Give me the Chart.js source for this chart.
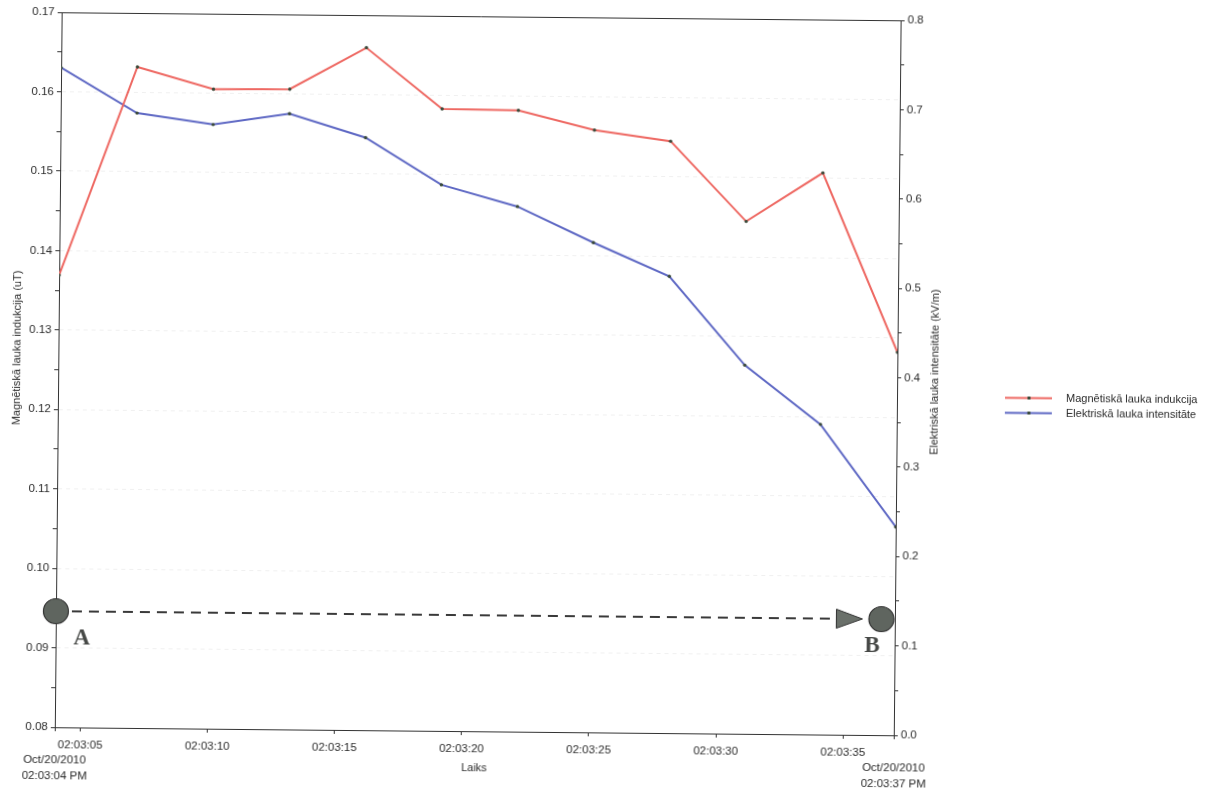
<!DOCTYPE html>
<html>
<head>
<meta charset="utf-8">
<script src="https://cdn.jsdelivr.net/npm/chart.js@4.4.0/dist/chart.umd.min.js"></script>
<style>
html,body{margin:0;padding:0;background:#fff;overflow:hidden}
#wrap{width:1216px;height:789px;position:relative;overflow:hidden;background:#fff}
/* the reference is a slightly skewed scan: reproduce the small clockwise tilt */
#c{transform-origin:608px 394.5px;transform:translate(0,2.5px) rotate(0.55deg)}
</style>
</head>
<body>
<div id="wrap"><canvas id="c" width="1216" height="789"></canvas></div>
<script>
// ---- data ----
const times = ['02:03:04','02:03:07','02:03:10','02:03:13','02:03:16','02:03:19','02:03:22','02:03:25','02:03:28','02:03:31','02:03:34','02:03:37'];
const magnetic = [0.1369,0.1632,0.1605,0.1606,0.1659,0.1583,0.1582,0.1558,0.1545,0.1445,0.1507,0.1282];
const electric = [0.738,0.688,0.676,0.689,0.663,0.611,0.5875,0.548,0.511,0.4125,0.347,0.233];
const seriesNames = ['Magnētiskā lauka indukcija','Elektriskā lauka intensitāte'];
const xTickSeconds = [5,10,15,20,25,30,35];
const xTickLabels = ['02:03:05','02:03:10','02:03:15','02:03:20','02:03:25','02:03:30','02:03:35'];
const startLabel = ['Oct/20/2010','02:03:04 PM'];
const endLabel = ['Oct/20/2010','02:03:37 PM'];
const leftTitle = 'Magnētiskā lauka indukcija (uT)';
const rightTitle = 'Elektriskā lauka intensitāte (kV/m)';
const xTitle = 'Laiks';
const markerA = {label:'A', sec:4.0, value:0.0946};
const markerB = {label:'B', sec:36.47, value:0.0946};

const toSec = t => parseInt(t.split(':')[2], 10);
const FONT = 'Liberation Sans, Arial, sans-serif';
const TXT = '#2b2b2b';
const RED = 'rgb(238,104,98)';
const BLUE = 'rgb(94,104,196)';

const extras = {
  id: 'extras',
  afterDraw(chart) {
    const {ctx, chartArea: ca, scales} = chart;
    const xs = scales.x, yl = scales.yL;
    ctx.save();
    // top border
    ctx.strokeStyle = '#333'; ctx.lineWidth = 1;
    ctx.beginPath(); ctx.moveTo(ca.left, ca.top + 0.5); ctx.lineTo(ca.right, ca.top + 0.5); ctx.stroke();

    // axis titles
    ctx.fillStyle = TXT; ctx.font = '11px ' + FONT; ctx.textAlign = 'center'; ctx.textBaseline = 'middle';
    ctx.save(); ctx.translate(17, 351); ctx.rotate(-Math.PI/2); ctx.fillText(leftTitle, 0, 0); ctx.restore();
    ctx.save(); ctx.translate(935, 366.5); ctx.rotate(-Math.PI/2); ctx.fillText(rightTitle, 0, 0); ctx.restore();

    // legend
    const ds = chart.data.datasets;
    ds.forEach((d, i) => {
      const y = 391.5 + i * 15;
      ctx.strokeStyle = d.borderColor; ctx.lineWidth = 2;
      ctx.beginPath(); ctx.moveTo(1005, y); ctx.lineTo(1052, y); ctx.stroke();
      ctx.fillStyle = '#3a4a3a'; ctx.fillRect(1027.5, y - 1.5, 3, 3);
      ctx.fillStyle = TXT; ctx.textAlign = 'left'; ctx.textBaseline = 'middle';
      ctx.font = '11px ' + FONT;
      ctx.fillText(d.label, 1066, y + 0.5);
    });

    // A -> B annotation
    const ax = xs.getPixelForValue(markerA.sec), ay = yl.getPixelForValue(markerA.value);
    const bx = xs.getPixelForValue(markerB.sec), by = yl.getPixelForValue(markerB.value);
    const tipX = bx - 19, baseX = bx - 45;
    ctx.strokeStyle = '#3a3a3a'; ctx.lineWidth = 2; ctx.setLineDash([10, 7]);
    ctx.beginPath(); ctx.moveTo(ax + 16, ay); ctx.lineTo(baseX, by); ctx.stroke();
    ctx.setLineDash([]);
    ctx.fillStyle = '#6a706a'; ctx.strokeStyle = '#333'; ctx.lineWidth = 1;
    ctx.beginPath(); ctx.moveTo(baseX, by - 9.5); ctx.lineTo(tipX, by); ctx.lineTo(baseX, by + 9.5); ctx.closePath();
    ctx.fill(); ctx.stroke();
    [[ax, ay], [bx, by]].forEach(([x, y]) => {
      ctx.beginPath(); ctx.arc(x, y, 12.5, 0, Math.PI * 2);
      ctx.fillStyle = '#5f655f'; ctx.fill();
      ctx.strokeStyle = '#333'; ctx.lineWidth = 1.2; ctx.stroke();
    });
    ctx.fillStyle = '#464846'; ctx.font = 'bold 23px Liberation Serif, serif';
    ctx.textAlign = 'center'; ctx.textBaseline = 'middle';
    ctx.fillText(markerA.label, ax + 26, ay + 27);
    ctx.fillText(markerB.label, bx - 9, by + 27);
    ctx.restore();
  }
};

const tickFont = {family: FONT, size: 11.5, lineHeight: 1.35};

new Chart(document.getElementById('c'), {
  type: 'line',
  data: {
    datasets: [
      {label: seriesNames[0], data: times.map((t, i) => ({x: toSec(t), y: magnetic[i]})), yAxisID: 'yL',
       borderColor: RED, borderWidth: 2, pointRadius: 1.7, pointBackgroundColor: '#3a4a3a', pointBorderWidth: 0, tension: 0},
      {label: seriesNames[1], data: times.map((t, i) => ({x: toSec(t), y: electric[i]})), yAxisID: 'yR',
       borderColor: BLUE, borderWidth: 2, pointRadius: 1.7, pointBackgroundColor: '#3a4a3a', pointBorderWidth: 0, tension: 0}
    ]
  },
  options: {
    responsive: false,
    animation: false,
    devicePixelRatio: 1,
    layout: {padding: {top: 15, right: 270, bottom: 0, left: 0}},
    plugins: {legend: {display: false}, tooltip: {enabled: false}},
    scales: {
      x: {
        type: 'linear', position: 'bottom', min: toSec(times[0]), max: toSec(times[times.length - 1]),
        afterBuildTicks: s => { s.ticks = [toSec(times[0]), ...xTickSeconds, toSec(times[times.length - 1])].map(v => ({value: v})); },
        afterFit: s => { s.height = 59; },
        ticks: {
          autoSkip: false, maxRotation: 0, minRotation: 0, padding: 6, color: TXT, font: tickFont,
          callback: v => {
            if (v === toSec(times[0])) return ['', ...startLabel];
            if (v === toSec(times[times.length - 1])) return ['', ...endLabel];
            const k = xTickSeconds.indexOf(v); return k >= 0 ? xTickLabels[k] : '';
          }
        },
        grid: {drawOnChartArea: false, tickLength: 4, tickColor: '#333'},
        border: {display: true, color: '#333', width: 1},
        title: {display: true, text: xTitle, color: TXT, font: {family: FONT, size: 11}, padding: {top: 0, bottom: 15}}
      },
      yL: {
        type: 'linear', position: 'left', min: 0.08, max: 0.17,
        afterBuildTicks: s => { const t = []; for (let i = 16; i <= 34; i++) t.push({value: i * 0.005}); s.ticks = t; },
        afterFit: s => { s.width = 58; },
        ticks: {
          padding: 3, color: TXT, font: tickFont,
          callback: v => { const k = Math.round(v * 1000); return k % 10 === 0 ? (k / 1000).toFixed(2) : ''; }
        },
        grid: {
          tickLength: 4, tickColor: '#333',
          color: c => (c.tick && Math.round(c.tick.value * 1000) % 10 === 0) ? 'rgba(0,0,0,0.06)' : 'rgba(0,0,0,0)'
        },
        border: {display: true, color: '#333', width: 1, dash: [4, 4]}
      },
      yR: {
        type: 'linear', position: 'right', min: 0, max: 0.8,
        afterBuildTicks: s => { const t = []; for (let i = 0; i <= 16; i++) t.push({value: i * 0.05}); s.ticks = t; },
        afterFit: s => { s.width = 49; },
        ticks: {
          padding: 3, color: TXT, font: tickFont,
          callback: v => { const k = Math.round(v * 100); return k % 10 === 0 ? (k / 100).toFixed(1) : ''; }
        },
        grid: {drawOnChartArea: false, tickLength: 4, tickColor: '#333'},
        border: {display: true, color: '#333', width: 1}
      }
    }
  },
  plugins: [extras]
});
</script>
</body>
</html>
